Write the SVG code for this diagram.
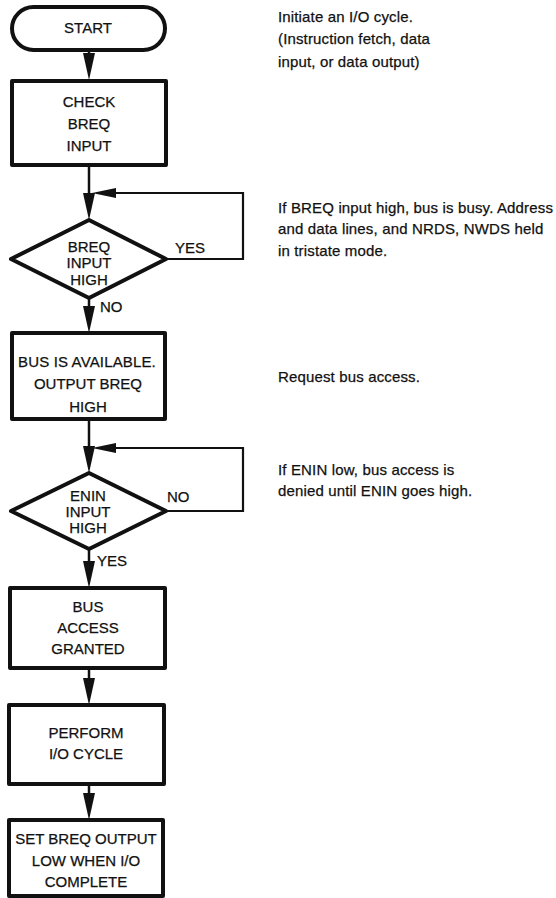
<svg xmlns="http://www.w3.org/2000/svg" width="556" height="898" viewBox="0 0 556 898">
<style>
  text { font-family: "Liberation Sans", Arial, sans-serif; font-size: 15px; fill: #111; stroke: #111; stroke-width: 0.25; }
  .note { letter-spacing: 0.15px; }
  .c { text-anchor: middle; }
  .shape { fill: #fff; stroke: #111; stroke-width: 4; stroke-linejoin: round; }
  .line { fill: none; stroke: #111; stroke-width: 2.5; }
  .loop { fill: none; stroke: #111; stroke-width: 2.2; }
  .head { fill: #111; stroke: none; }
</style>
<defs>
  <polygon id="down" class="head" points="-6,-27 6,-27 0,0"/>
  <polygon id="left" class="head" points="0,0 24,-5 24,5"/>
</defs>
<rect width="556" height="898" fill="#fff"/>

<g id="connectors">
  <line class="line" x1="89" y1="50" x2="89" y2="60"/>
  <use href="#down" x="89" y="80"/>
  <line class="line" x1="89" y1="165" x2="89" y2="200"/>
  <use href="#down" x="89" y="220"/>
  <polyline class="loop" points="166,259 243,259 243,193 110,193"/>
  <use href="#left" x="92" y="193"/>
  <line class="line" x1="89" y1="298" x2="89" y2="312"/>
  <use href="#down" x="89" y="333"/>
  <line class="line" x1="89" y1="419" x2="89" y2="453"/>
  <use href="#down" x="89" y="473"/>
  <polyline class="loop" points="166,511 243,511 243,448 110,448"/>
  <use href="#left" x="92" y="448"/>
  <line class="line" x1="89" y1="549" x2="89" y2="565"/>
  <use href="#down" x="89" y="588"/>
  <line class="line" x1="89" y1="668" x2="89" y2="684"/>
  <use href="#down" x="89" y="705"/>
  <line class="line" x1="89" y1="784" x2="89" y2="798"/>
  <use href="#down" x="89" y="820"/>
  <text x="175" y="253">YES</text>
  <text x="100" y="312">NO</text>
  <text x="167" y="502">NO</text>
  <text x="97" y="566">YES</text>
</g>

<g id="start">
  <rect class="shape" x="12" y="7" width="153" height="43" rx="21.5"/>
  <text class="c" x="88" y="33">START</text>
</g>

<g id="check-breq">
  <rect class="shape" x="12" y="81" width="154" height="84"/>
  <text class="c" x="89" y="107">CHECK</text>
  <text class="c" x="89" y="129">BREQ</text>
  <text class="c" x="89" y="151">INPUT</text>
</g>

<g id="breq-high">
  <polygon class="shape" points="89,220 166,259 89,298 11,259"/>
  <text class="c" x="89" y="252">BREQ</text>
  <text class="c" x="89" y="268">INPUT</text>
  <text class="c" x="89" y="285">HIGH</text>
</g>

<g id="bus-available">
  <rect class="shape" x="12" y="333" width="153" height="86"/>
  <text class="c note" x="87" y="367">BUS IS AVAILABLE.</text>
  <text class="c" x="88" y="389">OUTPUT BREQ</text>
  <text class="c" x="88" y="412">HIGH</text>
</g>

<g id="enin-high">
  <polygon class="shape" points="89,473 166,511 89,549 11,511"/>
  <text class="c" x="88" y="501">ENIN</text>
  <text class="c" x="88" y="517">INPUT</text>
  <text class="c" x="88" y="533">HIGH</text>
</g>

<g id="bus-granted">
  <rect class="shape" x="10" y="588" width="155" height="80"/>
  <text class="c" x="88" y="612">BUS</text>
  <text class="c" x="88" y="633">ACCESS</text>
  <text class="c" x="88" y="654">GRANTED</text>
</g>

<g id="perform">
  <rect class="shape" x="9" y="705" width="155" height="79"/>
  <text class="c" x="86" y="738">PERFORM</text>
  <text class="c" x="86" y="759">I/O CYCLE</text>
</g>

<g id="set-breq">
  <rect class="shape" x="9" y="820" width="154" height="76"/>
  <text class="c" x="86" y="844">SET BREQ OUTPUT</text>
  <text class="c" x="86" y="866">LOW WHEN I/O</text>
  <text class="c" x="86" y="887">COMPLETE</text>
</g>

<g id="notes">
  <text class="note" x="278" y="22">Initiate an I/O cycle.</text>
  <text class="note" x="278" y="44">(Instruction fetch, data</text>
  <text class="note" x="278" y="67">input, or data output)</text>
  <text class="note" x="278" y="213">If BREQ input high, bus is busy. Address</text>
  <text class="note" x="278" y="234">and data lines, and NRDS, NWDS held</text>
  <text class="note" x="278" y="256">in tristate mode.</text>
  <text class="note" x="278" y="382">Request bus access.</text>
  <text class="note" x="278" y="475">If ENIN low, bus access is</text>
  <text class="note" x="278" y="496">denied until ENIN goes high.</text>
</g>
</svg>
